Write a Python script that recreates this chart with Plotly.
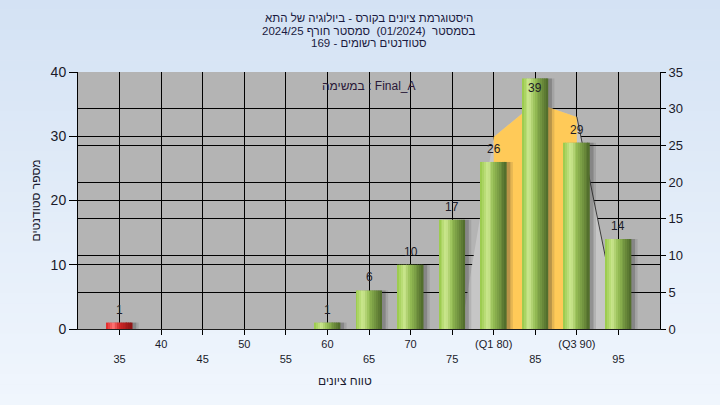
import plotly.graph_objects as go

# ---- data ----
categories = [35, 40, 45, 50, 55, 60, 65, 70, 75, 80, 85, 90, 95]
counts = [1, 0, 0, 0, 0, 1, 6, 10, 17, 26, 39, 29, 14]
tick_labels = ["35", "40", "45", "50", "55", "60", "65", "70", "75", "(Q1 80)", "85", "(Q3 90)", "95"]
failing_below = 55

# background distribution outline (left axis units)
curve_x = [76.1, 80, 85, 90, 95.2]
curve_y = [0, 29.9, 35.2, 33.0, 0]
q1, q3 = 80, 90

title_lines = ["היסטוגרמת ציונים בקורס - ביולוגיה של התא",
               "בסמסטר  (01/2024)  סמסטר חורף 2024/25",
               "סטודנטים רשומים - 169"]
task_label = "במשימה : Final_A"
y_title = "מספר סטודנטים"
x_title = "טווח ציונים"

# ---- style ----
W, H = 720, 405
ML, MR, MT, MB = 78, 60, 72, 76
PW, PH = W - ML - MR, H - MT - MB
FONT = "Liberation Sans, Arial, DejaVu Sans, sans-serif"
BAR_W = 3.1
N_SLICES = 14
TITLE_Y = [18, 31, 43]

green_stops = [(0.0, (150, 200, 70)), (0.28, (205, 232, 145)), (0.5, (150, 190, 85)), (1.0, (78, 105, 42))]
red_stops = [(0.0, (225, 35, 35)), (0.28, (255, 120, 120)), (0.5, (210, 40, 40)), (1.0, (140, 20, 20))]


def grad(stops, t):
    for (t0, c0), (t1, c1) in zip(stops, stops[1:]):
        if t <= t1:
            f = (t - t0) / (t1 - t0) if t1 > t0 else 0
            c = [round(a + (b - a) * f) for a, b in zip(c0, c1)]
            return "rgb(%d,%d,%d)" % tuple(c)
    return "rgb(%d,%d,%d)" % stops[-1][1]


fig = go.Figure()

# background curve area (light grey) and inter-quartile part (orange) on the main subplot
fig.add_trace(go.Scatter(x=curve_x + [curve_x[0]], y=curve_y + [curve_y[0]], fill="toself",
                         fillcolor="rgb(198,198,198)", line=dict(width=0), mode="lines",
                         hoverinfo="skip", showlegend=False))
iq_x = [q1] + [x for x in curve_x if q1 <= x <= q3] + [q3]
iq_y = [0] + [y for x, y in zip(curve_x, curve_y) if q1 <= x <= q3] + [0]
fig.add_trace(go.Scatter(x=iq_x, y=iq_y, fill="toself", fillcolor="rgb(255,202,88)",
                         line=dict(width=0), mode="lines", hoverinfo="skip", showlegend=False))
tail_x = [x for x in curve_x if x >= q3]
tail_y = [y for x, y in zip(curve_x, curve_y) if x >= q3]
fig.add_trace(go.Scatter(x=tail_x, y=tail_y, mode="lines", line=dict(color="rgb(60,60,60)", width=1),
                         hoverinfo="skip", showlegend=False))

# invisible trace for the right axis
fig.add_trace(go.Scatter(x=[categories[0]], y=[0], yaxis="y2", mode="markers",
                         marker=dict(opacity=0), hoverinfo="skip", showlegend=False))

# shadows (on overlay axis y3 so they sit above the area)
for shift, alpha in [(0.75, 0.12), (0.45, 0.24)]:
    fig.add_trace(go.Bar(x=categories, y=counts, width=BAR_W, offset=-BAR_W / 2 + shift, yaxis="y3",
                         marker=dict(color="rgba(40,40,40,%.2f)" % alpha, line=dict(width=0)),
                         hoverinfo="skip", showlegend=False))

# gradient bars built from thin slices
for i in range(N_SLICES):
    t = (i + 0.5) / N_SLICES
    colors = [grad(red_stops if c < failing_below else green_stops, t) for c in categories]
    fig.add_trace(go.Bar(x=categories, y=counts, width=BAR_W / N_SLICES * 1.02, yaxis="y3",
                         offset=-BAR_W / 2 + i * BAR_W / N_SLICES,
                         marker=dict(color=colors, line=dict(width=0)),
                         hoverinfo="skip", showlegend=False))

ymax_left = 40
annotations = []
for c, v in zip(categories, counts):
    if v <= 0:
        continue
    inside = v + 2.2 > ymax_left
    annotations.append(dict(x=c, y=v, xref="x", yref="y", text=str(v), showarrow=False,
                            yanchor="top" if inside else "bottom", yshift=-1 if inside else 4,
                            font=dict(family=FONT, size=12, color="#1c1c28")))

for line, ypx in zip(title_lines, TITLE_Y):
    annotations.append(dict(x=0.5, y=1 + MT / PH, xref="paper", yref="paper", yshift=-ypx,
                            text=line, showarrow=False, yanchor="middle", xanchor="center",
                            xshift=0, font=dict(family=FONT, size=11.5, color="#1a1a40")))
annotations.append(dict(x=0.5, y=1, xref="paper", yref="paper", yshift=-14,
                        text=task_label, showarrow=False, yanchor="middle", xanchor="center",
                        font=dict(family=FONT, size=12, color="#2a1838")))
annotations.append(dict(x=0, y=0.5, xref="paper", yref="paper", xshift=-43, text=y_title, textangle=-90,
                        showarrow=False, xanchor="center", yanchor="middle",
                        font=dict(family=FONT, size=12, color="#1a1a30")))
annotations.append(dict(x=(345 - ML) / PW, y=0, xref="paper", yref="paper", yshift=-52,
                        text=x_title, showarrow=False, xanchor="center", yanchor="middle",
                        font=dict(family=FONT, size=12, color="#1a1a30")))

# background gradient strips + grey plot area
shapes = []
n_strips = 40
top_c, bot_c = (212, 226, 244), (240, 246, 253)
for k in range(n_strips):
    f = k / (n_strips - 1)
    c = tuple(round(a + (b - a) * f) for a, b in zip(top_c, bot_c))
    y1 = 1 - k / n_strips
    y0 = 1 - (k + 1) / n_strips
    shapes.append(dict(type="rect", xref="paper", yref="paper", layer="below",
                       x0=-ML / PW, x1=1 + MR / PW,
                       y0=-MB / PH + y0 * H / PH,
                       y1=-MB / PH + y1 * H / PH + 0.002,
                       line=dict(width=0), fillcolor="rgb(%d,%d,%d)" % c))
shapes.append(dict(type="rect", xref="paper", yref="paper", layer="below", x0=0, x1=1, y0=0, y1=1,
                   line=dict(width=0), fillcolor="rgb(180,180,180)"))

lower = [("<br>" + t) if i % 2 == 0 else t for i, t in enumerate(tick_labels)]

fig.update_layout(
    width=W, height=H, margin=dict(l=ML, r=MR, t=MT, b=MB, pad=0),
    paper_bgcolor="rgb(226,236,249)", plot_bgcolor="rgba(0,0,0,0)",
    barmode="overlay", showlegend=False, shapes=shapes, annotations=annotations,
    font=dict(family=FONT, color="#1a1a2a"),
    xaxis=dict(range=[30, 100], tickvals=categories, ticktext=lower, showgrid=True,
               gridcolor="black", gridwidth=1, zeroline=False, showline=True, linecolor="rgb(30,30,30)",
               ticks="outside", ticklen=5, tickcolor="black", tickfont=dict(size=11, family=FONT, color="#1a1a2a")),
    yaxis=dict(range=[0, ymax_left], dtick=10, showgrid=True, gridcolor="black", gridwidth=1, zeroline=False,
               showline=True, linecolor="black", ticks="outside", ticklen=8, tickcolor="black",
               tickfont=dict(size=14, family=FONT, color="#1a1a2a")),
    yaxis2=dict(range=[0, 35], dtick=5, overlaying="y", side="right", showgrid=True, gridcolor="black",
                gridwidth=1, zeroline=False, showline=True, linecolor="black", ticks="outside", ticklen=5,
                tickcolor="black", tickfont=dict(size=13, family=FONT, color="#1a1a2a")),
    yaxis3=dict(range=[0, ymax_left], overlaying="y", visible=False, showgrid=False, zeroline=False),
)

fig.write_html("out.html", config={"displayModeBar": False},
               post_script="document.body.style.margin='0';")
